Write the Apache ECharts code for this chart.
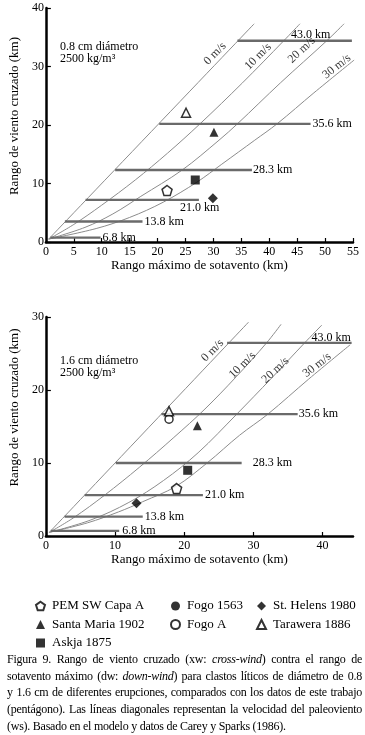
<!DOCTYPE html>
<html>
<head>
<meta charset="utf-8">
<script src="https://cdn.jsdelivr.net/npm/echarts@6/dist/echarts.min.js"></script>
<style>
  html, body { margin: 0; padding: 0; background: #fff; }
  #chart { position: absolute; left: 0; top: 0; width: 365px; height: 735px; }
  #caption {
    position: absolute; left: 7px; top: 651px; width: 355px;
    font-family: "Liberation Serif", serif; font-size: 12px; line-height: 16.7px;
    letter-spacing: -0.25px; text-align: justify; color: #000;
  }
</style>
</head>
<body>
<div id="chart"></div>
<div id="caption">Figura 9. Rango de viento cruzado (xw: <i>cross-wind</i>) contra el rango de sotavento máximo (dw: <i>down-wind</i>) para clastos líticos de diámetro de 0.8 y&nbsp;1.6 cm de diferentes erupciones, comparados con los datos de este trabajo (pentágono). Las líneas diagonales representan la velocidad del paleoviento (ws). Basado en el modelo y datos de Carey y Sparks (1986).</div>
<script>
// [downwind, crosswind] in km
var windNames = ['0 m/s', '10 m/s', '20 m/s', '30 m/s'];

// panel 1: 0.8 cm
var wind1_0 = [[0.5, 0.5], [37.3, 37.3]];
var wind1_10 = [[0.5, 0.5], [5, 3], [10, 6.3], [16, 10.6], [21.8, 15.2], [27.6, 20.2], [35.2, 27.2], [42.6, 34.4], [45.5, 37.3]];
var wind1_20 = [[0.5, 0.5], [7, 2.5], [12, 4.8], [17, 7.8], [24.4, 12.3], [31, 17.4], [34.3, 20.2], [42, 27.2], [50.3, 34.4], [53.4, 37.3]];
var wind1_30 = [[0.5, 0.5], [9, 2.3], [15, 4.2], [21, 6.8], [27, 10.2], [31.5, 13.3], [37.4, 17.4], [41.4, 20.2], [48, 25.5], [55.2, 31.1]];

// panel 2: 1.6 cm
var wind2_0 = [[0.5, 0.5], [29.3, 29.3]];
var wind2_10 = [[0.5, 0.5], [4, 2.5], [8.5, 5.6], [13.5, 9.4], [18.5, 13.5], [23, 17.4], [27.5, 21.8], [31.9, 26.45], [34, 29.0]];
var wind2_20 = [[0.5, 0.5], [6.5, 2.2], [12, 4.6], [17, 7.6], [22, 11.4], [27.6, 16.7], [32.6, 21.6], [37.4, 26.45], [39.9, 28.9]];
var wind2_30 = [[0.5, 0.5], [6, 1.8], [10.5, 3.3], [14, 4.7], [18.8, 6.8], [23.3, 10], [28, 13.8], [32.1, 16.7], [38, 21.5], [44, 26.2]];

// column heights (horizontal lines)
var heightLabels = ['43.0 km', '35.6 km', '28.3 km', '21.0 km', '13.8 km', '6.8 km'];
var xw1 = [34.4, 20.2, 12.3, 7.2, 3.5, 0.75];
var dwStart1 = [34.3, 20.3, 12.4, 7.1, 3.4, 0.8];
var dwEnd1 = [54.8, 47.4, 36.9, 27.4, 17.3, 9.8];
var xw2 = [26.45, 16.7, 10.0, 5.6, 2.65, 0.7];
var dwStart2 = [26.2, 16.7, 10.1, 5.6, 2.7, 0.7];
var dwEnd2 = [44.2, 36.4, 28.3, 22.7, 14.0, 10.6];

// eruptions
var volcanoNames = ['PEM SW Capa A', 'Santa Maria 1902', 'Askja 1875', 'Fogo 1563', 'Fogo A', 'St. Helens 1980', 'Tarawera 1886'];
var points1 = [[21.7, 8.8], [30.1, 18.75], [26.75, 10.6], null, null, [29.9, 7.5], [25.1, 22.1]];
var points2 = [[18.9, 6.5], [21.9, 15.1], [20.5, 9.0], null, [17.8, 16.0], [13.1, 4.5], [17.8, 17.1]];

// wind label anchors
var windLabelPos1 = [[30.3, 32.2], [38.0, 31.7], [45.8, 32.8], [52.1, 30.0]];
var windLabelPos2 = [[24.1, 25.4], [28.4, 23.4], [33.2, 22.7], [39.2, 23.4]];

var FONT = 'Liberation Serif';
var pentagon = 'path://M0,-10 L9.5,-3.1 L5.9,8.1 L-5.9,8.1 L-9.5,-3.1 Z';
var symbolStyle = [
  { symbol: pentagon, size: 10, hollow: true },
  { symbol: 'triangle', size: 9, hollow: false },
  { symbol: 'rect', size: 9, hollow: false },
  { symbol: 'circle', size: 8, hollow: false },
  { symbol: 'circle', size: 8, hollow: true },
  { symbol: 'diamond', size: 10, hollow: false },
  { symbol: 'triangle', size: 9, hollow: true }
];
var windRotate = [45, 45, 43, 38];
var labelOffset1 = [[-66, -6], [-3, 0], [-4, 0], [-24, 8], [-3, 0], [-3, 0]];
var labelOffset2 = [[-45, -5], [-4, 0], [6, 0], [-3, 0], [-3, 0], [-2, 0]];

var myChart = echarts.init(document.getElementById('chart'));

function xAxisOf(grid, max, interval, labels, gap) {
  return {
    type: 'value', gridIndex: grid, min: 0, max: max, interval: interval,
    name: 'Rango máximo de sotavento (km)', nameLocation: 'middle', nameGap: gap,
    nameTextStyle: { fontFamily: FONT, fontSize: 13, color: '#000' },
    axisLine: { lineStyle: { color: '#000', width: 2.5 } },
    axisTick: { inside: true, length: 4, lineStyle: { color: '#000', width: 1.2 }, customValues: labels },
    axisLabel: { fontFamily: FONT, fontSize: 12, color: '#000', margin: 4, customValues: labels },
    splitLine: { show: false }
  };
}
function yAxisOf(grid, max, pad) {
  return {
    type: 'value', gridIndex: grid, min: 0, max: max, interval: 10,
    name: 'Rango de viento cruzado (km)', nameLocation: 'middle', nameGap: 17,
    nameTextStyle: { fontFamily: FONT, fontSize: 13, color: '#000', padding: [0, 0, 0, pad] },
    axisLine: { lineStyle: { color: '#000', width: 2.5 } },
    axisTick: { inside: true, length: 5, lineStyle: { color: '#000', width: 1.2 } },
    axisLabel: { fontFamily: FONT, fontSize: 12, color: '#000', margin: 2 },
    splitLine: { show: false }
  };
}

var series = [];

function addPanel(p, winds, xw, dwS, dwE, offsets, pts, windPos) {
  winds.forEach(function (w) {
    series.push({
      type: 'line', xAxisIndex: p, yAxisIndex: p, data: w, smooth: 0.35,
      showSymbol: false, silent: true, z: 2,
      lineStyle: { color: '#8c8c8c', width: 1 }
    });
  });
  heightLabels.forEach(function (h, i) {
    series.push({
      type: 'line', name: h, xAxisIndex: p, yAxisIndex: p,
      data: [[dwS[i], xw[i]], [dwE[i], xw[i]]],
      showSymbol: false, silent: true, z: 3,
      lineStyle: { color: '#6a6a6a', width: 2.4 },
      endLabel: {
        show: true, formatter: '{a}', distance: 5, offset: offsets[i],
        fontFamily: FONT, fontSize: 12, color: '#000'
      }
    });
  });
  series.push({
    type: 'scatter', xAxisIndex: p, yAxisIndex: p, symbolSize: 0, silent: true, z: 4,
    data: windNames.map(function (n, i) {
      return { name: n, value: windPos[i], label: { rotate: windRotate[i] } };
    }),
    label: { show: true, position: 'inside', formatter: '{b}', fontFamily: FONT, fontSize: 12, color: '#000' }
  });
  volcanoNames.forEach(function (n, i) {
    var s = symbolStyle[i];
    series.push({
      type: 'scatter', name: n, xAxisIndex: p, yAxisIndex: p, z: 5,
      symbol: s.symbol, symbolSize: s.size,
      itemStyle: s.hollow
        ? { color: '#fff', borderColor: '#000', borderWidth: 1.5 }
        : { color: '#000', borderColor: '#000', borderWidth: 0 },
      data: pts[i] ? [pts[i]] : []
    });
  });
}

addPanel(0, [wind1_0, wind1_10, wind1_20, wind1_30], xw1, dwStart1, dwEnd1, labelOffset1, points1, windLabelPos1);
addPanel(1, [wind2_0, wind2_10, wind2_20, wind2_30], xw2, dwStart2, dwEnd2, labelOffset2, points2, windLabelPos2);

function legendOf(names, left) {
  return {
    data: names, orient: 'vertical', left: left, top: 594,
    itemWidth: 9, itemHeight: 9, itemGap: 4.5, selectedMode: false,
    textStyle: { fontFamily: FONT, fontSize: 13, color: '#000', lineHeight: 14, padding: [0, 0, 0, 2] }
  };
}

var option = {
  animation: false,
  title: [
    { text: '0.8 cm diámetro\n2500 kg/m³', left: 55, top: 36,
      textStyle: { fontFamily: FONT, fontSize: 12, fontWeight: 'normal', color: '#000', lineHeight: 12 } },
    { text: '1.6 cm diámetro\n2500 kg/m³', left: 55, top: 350,
      textStyle: { fontFamily: FONT, fontSize: 12, fontWeight: 'normal', color: '#000', lineHeight: 12 } }
  ],
  grid: [
    { left: 32, top: 8, width: 321, height: 234 },
    { left: 30, top: 317, width: 323, height: 219 }
  ],
  xAxis: [
    xAxisOf(0, 55, 5, [0, 5, 10, 15, 20, 25, 30, 35, 40, 45, 50, 55], 15),
    xAxisOf(1, 44.4, 10, [0, 10, 20, 30, 40], 13)
  ],
  yAxis: [yAxisOf(0, 40, 18), yAxisOf(1, 30, 38)],
  legend: [
    legendOf(['PEM SW Capa A', 'Santa Maria 1902', 'Askja 1875'], 30),
    legendOf(['Fogo 1563', 'Fogo A'], 165),
    legendOf(['St. Helens 1980', 'Tarawera 1886'], 251)
  ],
  series: series
};

myChart.setOption(option);
</script>
</body>
</html>
